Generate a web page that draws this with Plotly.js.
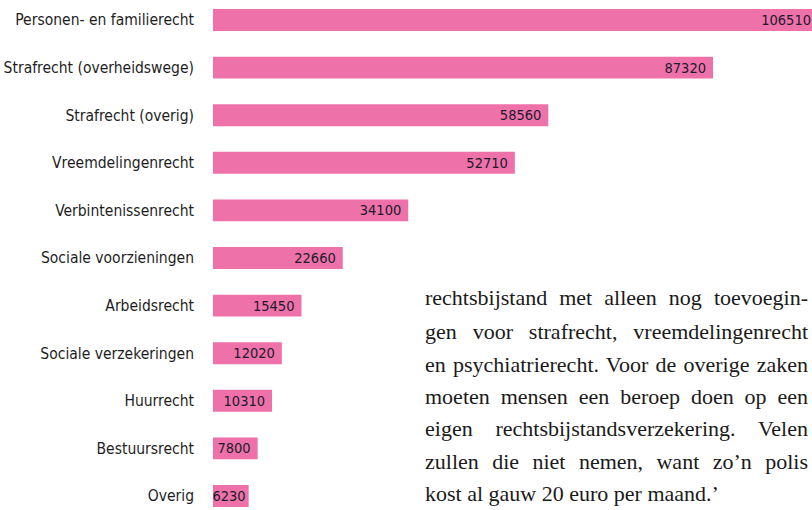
<!DOCTYPE html>
<html>
<head>
<meta charset="utf-8">
<script src="https://cdn.plot.ly/plotly-3.0.1.min.js"></script>
<style>
html,body{margin:0;padding:0;background:#fff;overflow:hidden;width:812px;height:510px;}
#chart{width:830px;height:510px;}
</style>
</head>
<body>
<div id="chart"></div>
<script>
const categories = [
  "Personen- en familierecht",
  "Strafrecht (overheidswege)",
  "Strafrecht (overig)",
  "Vreemdelingenrecht",
  "Verbintenissenrecht",
  "Sociale voorzieningen",
  "Arbeidsrecht",
  "Sociale verzekeringen",
  "Huurrecht",
  "Bestuursrecht",
  "Overig"
];
const values = [106510, 87320, 58560, 52710, 34100, 22660, 15450, 12020, 10310, 7800, 6230];

const paragraphLines = [
  "rechtsbijstand met alleen nog toevoegin-",
  "gen voor strafrecht, vreemdelingenrecht",
  "en psychiatrierecht. Voor de overige zaken",
  "moeten mensen een beroep doen op een",
  "eigen rechtsbijstandsverzekering. Velen",
  "zullen die niet nemen, want zo\u2019n polis",
  "kost al gauw 20 euro per maand.\u2019"
];

const W = 830, H = 510, VIEW_W = 812, L = 213;
const sansFont = '"DejaVu Sans Condensed", "DejaVu Sans", sans-serif';
const serifFont = '"Liberation Serif", "DejaVu Serif", serif';

const lineY = [297, 331, 364, 396, 428, 461, 493];
const annotations = paragraphLines.map((t, i) => ({
  xref: 'paper', yref: 'paper',
  x: (423 - L) / (W - L), y: 1 - lineY[i] / H,
  xanchor: 'left', yanchor: 'middle', align: 'left',
  text: t, showarrow: false,
  font: {family: serifFont, size: 22, color: '#1a1a1a'}
}));

const trace = {
  type: 'bar',
  orientation: 'h',
  y: categories,
  x: values,
  width: 0.46,
  marker: {color: '#ef71a9', line: {width: 0}},
  text: values.map(v => String(v)),
  textposition: 'inside',
  insidetextanchor: 'end',
  constraintext: 'none',
  textangle: 0,
  insidetextfont: {family: sansFont, size: 14.5, color: '#1b1b2b'},
  hoverinfo: 'none',
  cliponaxis: false
};

const layout = {
  width: W, height: H,
  margin: {l: L, r: 0, t: 0, b: 0, pad: 0},
  paper_bgcolor: '#ffffff',
  plot_bgcolor: '#ffffff',
  showlegend: false,
  xaxis: {visible: false, range: [0, 107750], fixedrange: true},
  yaxis: {
    type: 'category',
    range: [10.294, -0.42],
    showgrid: false, zeroline: false, showline: false,
    ticks: '', ticklabelstandoff: 18,
    tickfont: {family: sansFont, size: 15.5, color: '#1e1e1e'},
    automargin: false
  },
  annotations: annotations
};

function finish() {
  const targetRight = 808;
  const texts = document.querySelectorAll('#chart .annotation-text');
  const n = texts.length;
  texts.forEach((el, i) => {
    if (i === n - 1) return;
    const content = el.textContent;
    const spaces = (content.match(/ /g) || []).length;
    if (!spaces) return;
    el.style.wordSpacing = '0px';
    const box = el.getBoundingClientRect();
    const extra = (targetRight - box.right) / spaces;
    if (extra > 0) el.style.wordSpacing = extra.toFixed(2) + 'px';
  });
  // extra right padding for value labels where the bar leaves room,
  // and keep the longest label inside the visible window
  document.querySelectorAll('#chart .bartext').forEach(el => {
    const box = el.getBoundingClientRect();
    const room = box.left - L - 4;
    let shift = Math.max(0, Math.min(4, room));
    if (box.right - shift > VIEW_W - 1) shift = box.right - (VIEW_W - 1);
    if (shift > 0) {
      const t = el.getAttribute('transform') || '';
      el.setAttribute('transform', 'translate(' + (-shift) + ',0) ' + t);
    }
  });
}

Plotly.newPlot('chart', [trace], layout, {displayModeBar: false, staticPlot: true}).then(finish);
</script>
</body>
</html>
